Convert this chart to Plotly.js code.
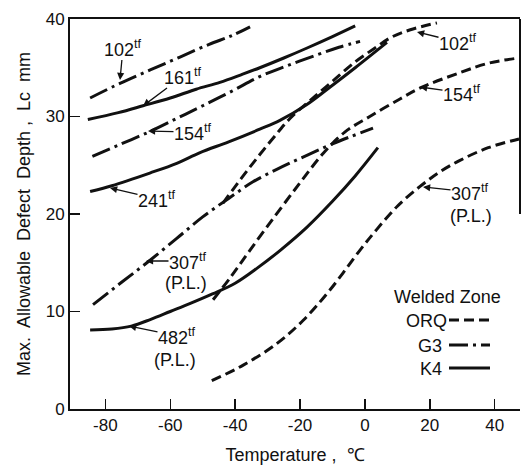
<!DOCTYPE html>
<html>
<head>
<meta charset="utf-8">
<script src="https://cdn.plot.ly/plotly-3.0.1.min.js"></script>
<style>html,body{margin:0;padding:0;background:#fff;}#chart{width:522px;height:465px;}</style>
</head>
<body>
<div id="chart"></div>
<script>
// ---------- data ----------
const xTickVals = [-80, -60, -40, -20, 0, 20, 40];
const xTickText = ["-80", "-60", "-40", "-20", "0", "20", "40"];
const yTickVals = [0, 10, 20, 30, 40];
const yTickText = ["0", "10", "20", "30", "40"];

// ORQ (dashed)
const orq102X = [-43.8, -38, -32.4, -27, -23.1, -17, -10, -3, 3, 8, 14, 22.2];
const orq102Y = [21.1, 23.7, 26.1, 28.3, 29.8, 31.6, 33.6, 35.6, 37.0, 38.1, 38.9, 39.6];
const orq154X = [-46.8, -41, -35.4, -27.7, -20.0, -12.9, -6.2, 1.5, 10.8, 16.9, 29.3, 38.5, 47.5];
const orq154Y = [11.2, 13.7, 16.3, 19.8, 23.2, 26.2, 28.4, 30.0, 31.8, 32.9, 34.5, 35.5, 36.0];
const orq307X = [-47.2, -37.5, -27.2, -19, -10.8, -1.5, 3.6, 10, 16.9, 23, 29.3, 38, 47.5];
const orq307Y = [2.9, 4.5, 6.7, 9.1, 12.2, 16.3, 18.4, 20.8, 22.8, 24.3, 25.5, 26.8, 27.7];

// G3 (dash-dot)
const g3_102X = [-84.7, -75.5, -66, -57, -48, -41, -35.4];
const g3_102Y = [31.9, 33.4, 34.8, 36.1, 37.4, 38.3, 39.2];
const g3_154X = [-84, -75, -66, -58, -50, -41, -32.4, -24, -15, -8, -1.5];
const g3_154Y = [25.9, 27.2, 28.5, 29.8, 31.1, 32.6, 34.1, 35.2, 36.3, 37.1, 37.7];
const g3_307X = [-83.8, -75, -67.2, -58, -50, -42, -34.5, -27, -20, -10, 2.5];
const g3_307Y = [10.7, 13.0, 15.0, 17.5, 19.7, 21.6, 23.3, 24.6, 25.7, 27.2, 28.8];

// K4 (solid)
const k4_161X = [-85.4, -76, -68.4, -60, -52, -44.7, -38, -32.4, -25, -18, -10, -3];
const k4_161Y = [29.7, 30.4, 31.1, 31.9, 32.8, 33.5, 34.3, 35.0, 36.0, 37.0, 38.2, 39.3];
const k4_241X = [-84.7, -78, -66.3, -58, -50.8, -42, -32.4, -26.2, -18, -10.8, -3, 6.8];
const k4_241Y = [22.3, 22.9, 24.2, 25.2, 26.3, 27.4, 28.7, 29.6, 31.2, 33.0, 35.0, 37.6];
const k4_482X = [-84.7, -78, -72, -66, -60, -54, -47, -40, -33, -26, -18, -10, -3, 4];
const k4_482Y = [8.1, 8.2, 8.5, 9.2, 10.0, 10.8, 11.8, 12.9, 14.5, 16.3, 18.6, 21.3, 23.9, 26.8];

const legendTitle = "Welded Zone";
const legendNames = ["ORQ", "G3", "K4"];

// ---------- styles ----------
const FONT = "Liberation Sans, Arial, Helvetica, sans-serif";
const INK = "#111";
const DASH_ORQ = "10px,5px";
const DASH_G3 = "19px,5px,3px,5px";
const LW = 3;
const FS = 18;

function tr(x, y, dash) {
  return {x: x, y: y, type: "scatter", mode: "lines",
    line: {color: INK, width: LW, dash: dash, shape: "spline", smoothing: 1},
    showlegend: false, hoverinfo: "skip"};
}
const traces = [
  tr(orq102X, orq102Y, DASH_ORQ), tr(orq154X, orq154Y, DASH_ORQ), tr(orq307X, orq307Y, DASH_ORQ),
  tr(g3_102X, g3_102Y, DASH_G3), tr(g3_154X, g3_154Y, DASH_G3), tr(g3_307X, g3_307Y, DASH_G3),
  tr(k4_161X, k4_161Y, "solid"), tr(k4_241X, k4_241Y, "solid"), tr(k4_482X, k4_482Y, "solid")
];

// pixel -> data helpers for label placement
const XR = [-90.9, 47.8], YR = [0, 40];
const L = 70, T = 19, W = 450, H = 390;
const X = px => XR[0] + (px - L) / W * (XR[1] - XR[0]);
const Y = py => YR[0] + (T + H - py) / H * (YR[1] - YR[0]);

const ann = [];
const tf = n => n + "<sup>tf</sup>";
// label with arrow: text centred at (cx,cy), arrow tip at (tx,ty)  (pixels)
function larr(txt, cx, cy, tx, ty) {
  ann.push({x: X(tx), y: Y(ty), xref: "x", yref: "y", text: txt, showarrow: true,
    ax: cx - tx, ay: cy - ty, arrowhead: 2, arrowsize: 1.1, arrowwidth: 1.3, arrowcolor: INK,
    standoff: 0, startstandoff: 0, borderpad: 0,
    font: {family: FONT, size: FS, color: INK}});
}
function lab(txt, cx, cy) {
  ann.push({x: X(cx), y: Y(cy), xref: "x", yref: "y", text: txt, showarrow: false,
    xanchor: "center", yanchor: "middle", borderpad: 0, font: {family: FONT, size: FS, color: INK}});
}
larr(tf("102"), 123, 48, 120, 80);
larr(tf("161"), 183, 76, 143, 106);
larr(tf("154"), 193, 132, 148, 131);
larr(tf("241"), 157, 199, 110, 188);
larr(tf("307"), 188, 261, 146, 261); lab("(P.L.)", 186, 283);
larr(tf("482"), 177, 336, 129, 326); lab("(P.L.)", 175, 360);
larr(tf("102"), 458, 42, 417, 32);
larr(tf("154"), 462, 93, 420, 87);
larr(tf("307"), 470, 192, 423, 187); lab("(P.L.)", 471, 216);

// legend block (text + sample lines)
lab(legendTitle, 447, 297);
const legY = [321, 346, 369];
const legRight = [448, 443, 443];
const legDash = [DASH_ORQ, DASH_G3, "solid"];
const shapes = [];
legendNames.forEach((n, i) => {
  ann.push({x: X(legRight[i]), y: Y(legY[i]), xref: "x", yref: "y", text: n, showarrow: false,
    xanchor: "right", yanchor: "middle", borderpad: 0, font: {family: FONT, size: FS, color: INK}});
  shapes.push({type: "line", xref: "x", yref: "y", x0: X(449), x1: X(490), y0: Y(legY[i] - 1), y1: Y(legY[i] - 1),
    line: {color: INK, width: LW, dash: legDash[i]}});
});
// partial right frame edge as in the scan
shapes.push({type: "line", xref: "paper", yref: "y", x0: 1, x1: 1, y0: 20, y1: 40, line: {color: INK, width: 2}});

const layout = {
  width: 522, height: 465,
  margin: {l: L, r: 522 - L - W, t: T, b: 465 - T - H},
  paper_bgcolor: "#fff", plot_bgcolor: "#fff",
  font: {family: FONT, size: FS, color: INK},
  xaxis: {range: XR, tickvals: xTickVals, ticktext: xTickText, ticks: "inside", ticklen: 10, tickwidth: 1.5,
    tickcolor: INK, showline: true, linewidth: 2, linecolor: INK, mirror: true, showgrid: false, zeroline: false,
    tickfont: {family: FONT, size: 17, color: INK},
    title: {text: "Temperature ,  ℃", font: {family: FONT, size: 18, color: INK}, standoff: 14}},
  yaxis: {range: YR, tickvals: yTickVals, ticktext: yTickText, ticks: "inside", ticklen: 10, tickwidth: 1.5,
    tickcolor: INK, showline: true, linewidth: 2, linecolor: INK, showgrid: false, zeroline: false,
    tickfont: {family: FONT, size: 17, color: INK},
    title: {text: "Max.  Allowable  Defect  Depth ,  Lc  mm", font: {family: FONT, size: 18, color: INK}, standoff: 10}},
  annotations: ann,
  shapes: shapes
};
Plotly.newPlot("chart", traces, layout, {staticPlot: true, displayModeBar: false});
</script>
</body>
</html>
